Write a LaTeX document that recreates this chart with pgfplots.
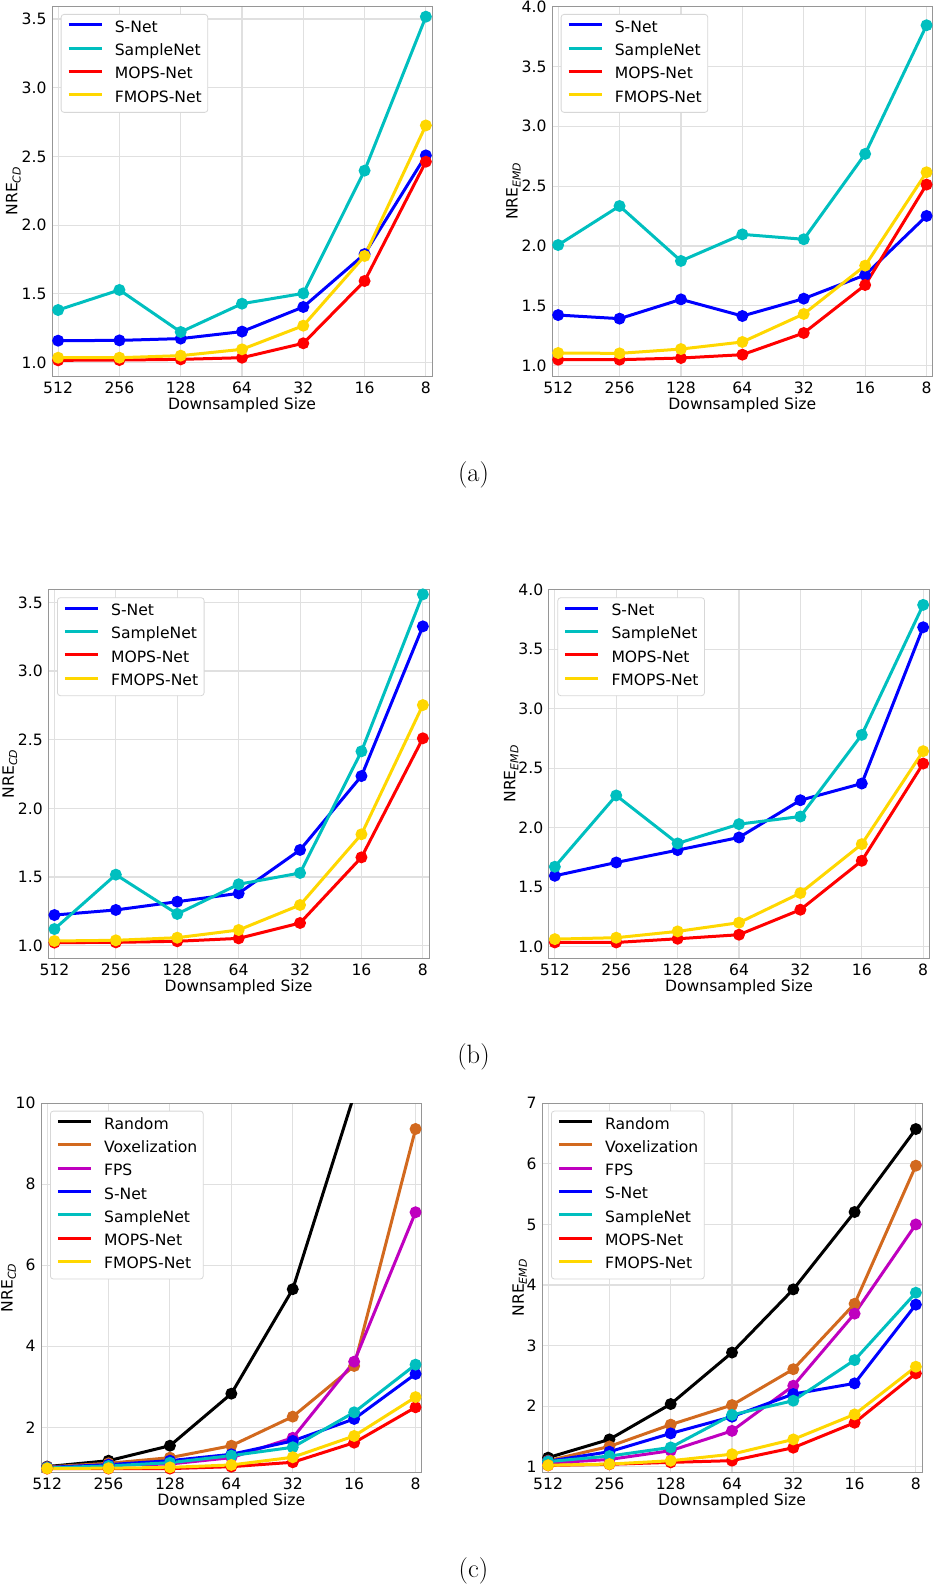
\documentclass[border=0pt]{standalone}
\usepackage{fontspec}
\usepackage{pgfplots}
\pgfplotsset{compat=1.18}
\newfontfamily\djv{DejaVu Sans}
\definecolor{cS}{RGB}{0,0,255}
\definecolor{cSN}{RGB}{0,191,191}
\definecolor{cM}{RGB}{255,0,0}
\definecolor{cF}{RGB}{255,215,0}
\definecolor{cV}{RGB}{210,105,30}
\definecolor{cP}{RGB}{191,0,191}
\definecolor{gridc}{RGB}{224,224,224}
\definecolor{framec}{RGB}{150,150,150}
\definecolor{legc}{RGB}{215,215,215}
\newcommand{\fs}{\djv\fontsize{15.6}{18}\selectfont}
\pgfplotsset{
  mystyle/.style={
    scale only axis,
    anchor=south west,
    xmin=-0.1, xmax=6.1,
    xtick={0,1,2,3,4,5,6},
    xticklabels={512,256,128,64,32,16,8},
    major tick length=0pt,
    grid=major,
    major grid style={color=gridc, line width=1.1pt},
    axis line style={framec, line width=0.9pt},
    tick label style={font=\fs},
    /pgf/number format/assume math mode=true,
    xticklabel style={inner sep=0pt, anchor=north, yshift=-5.7pt},
    yticklabel style={inner sep=0pt, anchor=east, xshift=-5.3pt},
    xlabel={Downsampled Size},
    label style={font=\fs},
    xlabel style={inner sep=0pt, anchor=north, at={(axis description cs:0.5,0)}, yshift=-21.5pt},
    ylabel style={inner sep=0pt, anchor=base},
    every axis plot/.append style={line width=3pt, mark=*, mark size=4.4pt, mark options={solid}},
    legend cell align=left,
    legend style={at={(axis description cs:0,1)}, anchor=north west, xshift=8.7pt, yshift=-8pt,
      draw=legc, line width=0.8pt, rounded corners=3pt, fill=white,
      inner xsep=6pt, inner ysep=6.5pt, row sep=8.2pt, font=\fs,
      nodes={inner sep=0pt, text height=11.5pt, text depth=3.6pt},
      /tikz/every odd column/.append style={column sep=11.7pt}},
    legend image code/.code={\draw[#1, line width=3pt, rounded corners=0pt] (0pt,0.36em) -- (33pt,0.36em);},
  },
  onedec/.style={yticklabel style={/pgf/number format/.cd, fixed, fixed zerofill, precision=1}},
}
\begin{document}
\begin{tikzpicture}
\useasboundingbox (0pt,0pt) rectangle (934pt,1588pt);
% ---------------- (a) left
\begin{axis}[mystyle, onedec, at={(52pt,1212pt)}, width=380pt, height=370pt,
  ymin=0.903, ymax=3.595, ytick={1.0,1.5,2.0,2.5,3.0,3.5},
  ylabel={NRE\textsubscript{\textit{CD}}}, ylabel style={at={(axis description cs:-0.0908,0.5)}}]
\addplot[cS] coordinates {(0,1.160) (1,1.162) (2,1.175) (3,1.226) (4,1.405) (5,1.790) (6,2.508)};
\addplot[cSN] coordinates {(0,1.383) (1,1.529) (2,1.223) (3,1.429) (4,1.504) (5,2.397) (6,3.517)};
\addplot[cM] coordinates {(0,1.017) (1,1.019) (2,1.024) (3,1.036) (4,1.141) (5,1.594) (6,2.462)};
\addplot[cF] coordinates {(0,1.036) (1,1.036) (2,1.051) (3,1.097) (4,1.269) (5,1.776) (6,2.726)};
\legend{S-Net,SampleNet,MOPS-Net,FMOPS-Net}
\end{axis}
% ---------------- (a) right
\begin{axis}[mystyle, onedec, at={(552pt,1212pt)}, width=380.7pt, height=370pt,
  ymin=0.914, ymax=4.005, ytick={1.0,1.5,2.0,2.5,3.0,3.5,4.0},
  ylabel={NRE\textsubscript{\textit{EMD}}}, ylabel style={at={(axis description cs:-0.0901,0.5)}}]
\addplot[cS] coordinates {(0,1.423) (1,1.393) (2,1.554) (3,1.415) (4,1.560) (5,1.758) (6,2.251)};
\addplot[cSN] coordinates {(0,2.008) (1,2.334) (2,1.875) (3,2.097) (4,2.056) (5,2.769) (6,3.844)};
\addplot[cM] coordinates {(0,1.050) (1,1.050) (2,1.064) (3,1.092) (4,1.273) (5,1.674) (6,2.513)};
\addplot[cF] coordinates {(0,1.106) (1,1.103) (2,1.139) (3,1.198) (4,1.432) (5,1.836) (6,2.616)};
\legend{S-Net,SampleNet,MOPS-Net,FMOPS-Net}
\end{axis}
% ---------------- (b) left
\begin{axis}[mystyle, onedec, at={(48.3pt,629.7pt)}, width=380.7pt, height=369pt,
  ymin=0.908, ymax=3.595, ytick={1.0,1.5,2.0,2.5,3.0,3.5},
  ylabel={NRE\textsubscript{\textit{CD}}}, ylabel style={at={(axis description cs:-0.0901,0.5)}}]
\addplot[cS] coordinates {(0,1.223) (1,1.260) (2,1.320) (3,1.381) (4,1.697) (5,2.235) (6,3.325)};
\addplot[cSN] coordinates {(0,1.121) (1,1.517) (2,1.231) (3,1.447) (4,1.529) (5,2.415) (6,3.558)};
\addplot[cM] coordinates {(0,1.022) (1,1.024) (2,1.032) (3,1.053) (4,1.165) (5,1.643) (6,2.510)};
\addplot[cF] coordinates {(0,1.034) (1,1.039) (2,1.058) (3,1.114) (4,1.296) (5,1.811) (6,2.752)};
\legend{S-Net,SampleNet,MOPS-Net,FMOPS-Net}
\end{axis}
% ---------------- (b) right
\begin{axis}[mystyle, onedec, at={(548.7pt,629.7pt)}, width=380.6pt, height=369pt,
  ymin=0.903, ymax=4.003, ytick={1.0,1.5,2.0,2.5,3.0,3.5,4.0},
  ylabel={NRE\textsubscript{\textit{EMD}}}, ylabel style={at={(axis description cs:-0.0878,0.5)}}]
\addplot[cS] coordinates {(0,1.596) (1,1.708) (2,1.812) (3,1.918) (4,2.231) (5,2.371) (6,3.684)};
\addplot[cSN] coordinates {(0,1.672) (1,2.271) (2,1.868) (3,2.030) (4,2.094) (5,2.780) (6,3.872)};
\addplot[cM] coordinates {(0,1.036) (1,1.036) (2,1.067) (3,1.101) (4,1.311) (5,1.722) (6,2.539)};
\addplot[cF] coordinates {(0,1.064) (1,1.076) (2,1.129) (3,1.202) (4,1.451) (5,1.862) (6,2.643)};
\legend{S-Net,SampleNet,MOPS-Net,FMOPS-Net}
\end{axis}
% ---------------- (c) left
\begin{axis}[mystyle, at={(41pt,116pt)}, width=380.7pt, height=368.7pt,
  ymin=0.896, ymax=10, ytick={2,4,6,8,10},
  ylabel={NRE\textsubscript{\textit{CD}}}, ylabel style={at={(axis description cs:-0.0743,0.5)}},
  legend style={xshift=0.3pt, yshift=0.6pt}]
\addplot[black] coordinates {(0,1.030) (1,1.175) (2,1.545) (3,2.830) (4,5.410) (5,10.21) (6,20.0)};
\addplot[cV] coordinates {(0,1.020) (1,1.110) (2,1.250) (3,1.545) (4,2.263) (5,3.514) (6,9.366)};
\addplot[cP] coordinates {(0,1.000) (1,1.060) (2,1.094) (3,1.250) (4,1.740) (5,3.620) (6,7.310)};
\addplot[cS] coordinates {(0,1.010) (1,1.077) (2,1.175) (3,1.333) (4,1.663) (5,2.206) (6,3.317)};
\addplot[cSN] coordinates {(0,1.000) (1,1.045) (2,1.126) (3,1.300) (4,1.506) (5,2.370) (6,3.547)};
\addplot[cM] coordinates {(0,0.980) (1,0.980) (2,0.980) (3,1.027) (4,1.136) (5,1.620) (6,2.494)};
\addplot[cF] coordinates {(0,0.985) (1,0.990) (2,1.010) (3,1.070) (4,1.260) (5,1.786) (6,2.745)};
\legend{Random,Voxelization,FPS,S-Net,SampleNet,MOPS-Net,FMOPS-Net}
\end{axis}
% ---------------- (c) right
\begin{axis}[mystyle, at={(542pt,116pt)}, width=380pt, height=368.7pt,
  ymin=0.913, ymax=7, ytick={1,2,3,4,5,6,7},
  ylabel={NRE\textsubscript{\textit{EMD}}}, ylabel style={at={(axis description cs:-0.048,0.5)}},
  legend style={xshift=0.3pt, yshift=0.6pt}]
\addplot[black] coordinates {(0,1.150) (1,1.451) (2,2.035) (3,2.885) (4,3.928) (5,5.205) (6,6.575)};
\addplot[cV] coordinates {(0,1.100) (1,1.335) (2,1.695) (3,2.018) (4,2.610) (5,3.690) (6,5.970)};
\addplot[cP] coordinates {(0,1.060) (1,1.120) (2,1.265) (3,1.592) (4,2.337) (5,3.527) (6,5.000)};
\addplot[cS] coordinates {(0,1.090) (1,1.248) (2,1.550) (3,1.826) (4,2.200) (5,2.376) (6,3.676)};
\addplot[cSN] coordinates {(0,1.085) (1,1.176) (2,1.319) (3,1.856) (4,2.090) (5,2.761) (6,3.873)};
\addplot[cM] coordinates {(0,1.022) (1,1.040) (2,1.072) (3,1.100) (4,1.314) (5,1.726) (6,2.541)};
\addplot[cF] coordinates {(0,1.025) (1,1.044) (2,1.099) (3,1.207) (4,1.451) (5,1.864) (6,2.651)};
\legend{Random,Voxelization,FPS,S-Net,SampleNet,MOPS-Net,FMOPS-Net}
\end{axis}
% ---------------- captions
\node[font=\fontsize{26.5}{30}\selectfont, inner sep=0pt] at (473.5pt,1113.3pt) {(a)};
\node[font=\fontsize{26.5}{30}\selectfont, inner sep=0pt] at (473.5pt,531pt) {(b)};
\node[font=\fontsize{26.5}{30}\selectfont, inner sep=0pt] at (473.5pt,17pt) {(c)};
\end{tikzpicture}
\end{document}
